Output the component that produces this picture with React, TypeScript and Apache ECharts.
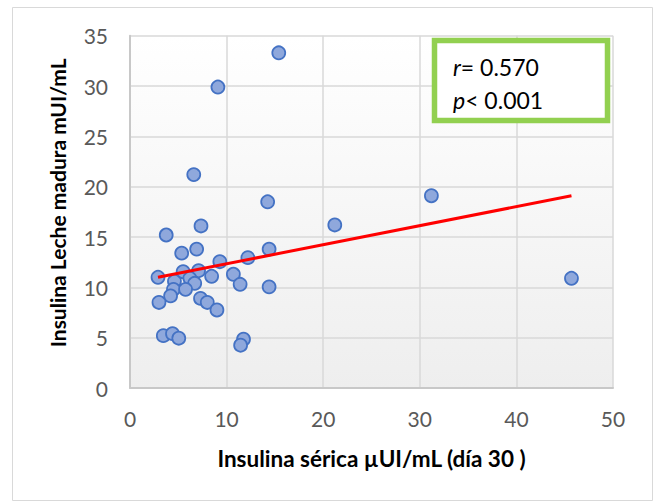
import React, { useEffect, useRef } from "react";
import * as echarts from "echarts";

// Serum insulin (day 30), µUI/mL
const serumInsulin = [
  15.4, 9.1, 6.6, 14.25, 31.2, 21.2, 45.7, 7.35, 3.75, 5.35, 6.9, 14.4,
  12.2, 9.3, 2.9, 5.5, 7.1, 6.2, 8.45, 10.7, 11.4, 14.4, 4.6, 6.7,
  4.5, 5.75, 4.2, 3.0, 7.3, 8.0, 9.0, 3.45, 4.4, 5.05, 11.75, 11.45,
];
// Mature milk insulin, mUI/mL
const milkInsulin = [
  33.3, 29.9, 21.2, 18.5, 19.1, 16.2, 10.9, 16.1, 15.2, 13.4, 13.8, 13.8,
  12.95, 12.55, 11.0, 11.55, 11.65, 10.9, 11.1, 11.3, 10.3, 10.05, 10.6, 10.4,
  9.8, 9.8, 9.15, 8.5, 8.9, 8.5, 7.75, 5.2, 5.4, 4.95, 4.85, 4.25,
];
// Linear trendline end points
const trendX = [2.9, 45.7];
const trendY = [11.0, 19.1];

const xTitle = "Insulina sérica µUI/mL (día 30 )";
const yTitle = "Insulina Leche madura mUI/mL";
const rValue = "0.570";
const pValue = "0.001";

const FONT = "Lato";

export default function App() {
  const ref = useRef<HTMLDivElement>(null);
  useEffect(() => {
    if (!ref.current) return;
    const chart = echarts.init(ref.current, undefined, { renderer: "svg" });
    const points = serumInsulin.map((x, i) => [x, milkInsulin[i]]);
    const trend = trendX.map((x, i) => [x, trendY[i]]);
    chart.setOption({
      animation: false,
      backgroundColor: "#ffffff",
      grid: {
        left: 130,
        top: 35.7,
        right: 41,
        bottom: 113,
        show: true,
        borderWidth: 0,
        backgroundColor: {
          type: "linear",
          x: 0,
          y: 0,
          x2: 0,
          y2: 1,
          colorStops: [
            { offset: 0, color: "#ffffff" },
            { offset: 1, color: "#eeeeee" },
          ],
        },
      },
      xAxis: {
        type: "value",
        min: 0,
        max: 50,
        interval: 10,
        name: xTitle,
        nameLocation: "middle",
        nameGap: 59,
        nameTextStyle: { fontFamily: FONT, fontSize: 22.5, fontWeight: "bold", color: "#000" },
        axisLine: { show: true, lineStyle: { color: "#c8c8c8", width: 2 } },
        axisTick: { show: false },
        axisLabel: { margin: 20, fontFamily: FONT, fontSize: 21, color: "#595959" },
        splitLine: { show: true, lineStyle: { color: "#d9d9d9", width: 1.5 } },
      },
      yAxis: {
        type: "value",
        min: 0,
        max: 35,
        interval: 5,
        name: yTitle,
        nameLocation: "middle",
        nameGap: 62,
        nameRotate: 90,
        nameTextStyle: {
          fontFamily: FONT,
          fontSize: 21,
          fontWeight: "bold",
          color: "#000",
          padding: [0, 0, 0, 18],
        },
        axisLine: { show: true, lineStyle: { color: "#c8c8c8", width: 2 } },
        axisTick: { show: false },
        axisLabel: { margin: 22, fontFamily: FONT, fontSize: 21, color: "#595959" },
        splitLine: { show: true, lineStyle: { color: "#d9d9d9", width: 1.5 } },
      },
      series: [
        {
          type: "scatter",
          data: points,
          symbolSize: 13,
          itemStyle: { color: "#8fa8dc", borderColor: "#4472c4", borderWidth: 1.75, opacity: 1 },
          z: 2,
        },
        {
          type: "line",
          data: trend,
          symbol: "none",
          lineStyle: { color: "#ff0000", width: 3 },
          z: 3,
        },
      ],
      graphic: [
        {
          type: "rect",
          silent: true,
          z: -10,
          shape: { x: 12.5, y: 7.5, width: 640, height: 493 },
          style: { fill: "none", stroke: "#d9d9d9", lineWidth: 1 },
        },
        {
          type: "rect",
          z: 10,
          shape: { x: 434.5, y: 40.5, width: 173, height: 80 },
          style: { fill: "#ffffff", stroke: "#92d050", lineWidth: 5.5 },
        },
        {
          type: "text",
          z: 11,
          x: 453,
          y: 67,
          style: {
            text: "{i|r}{n|= " + rValue + "}",
            verticalAlign: "middle",
            rich: {
              i: { fontFamily: FONT, fontSize: 23, fontStyle: "italic", fill: "#000" },
              n: { fontFamily: FONT, fontSize: 23, fill: "#000" },
            },
          },
        },
        {
          type: "text",
          z: 11,
          x: 453,
          y: 100,
          style: {
            text: "{i|p}{n|< " + pValue + "}",
            verticalAlign: "middle",
            rich: {
              i: { fontFamily: FONT, fontSize: 23, fontStyle: "italic", fill: "#000" },
              n: { fontFamily: FONT, fontSize: 23, fill: "#000" },
            },
          },
        },
      ],
    });
    return () => chart.dispose();
  }, []);
  return (
    <div
      ref={ref}
      style={{ position: "fixed", left: 0, top: 0, width: 654, height: 501 }}
    />
  );
}
